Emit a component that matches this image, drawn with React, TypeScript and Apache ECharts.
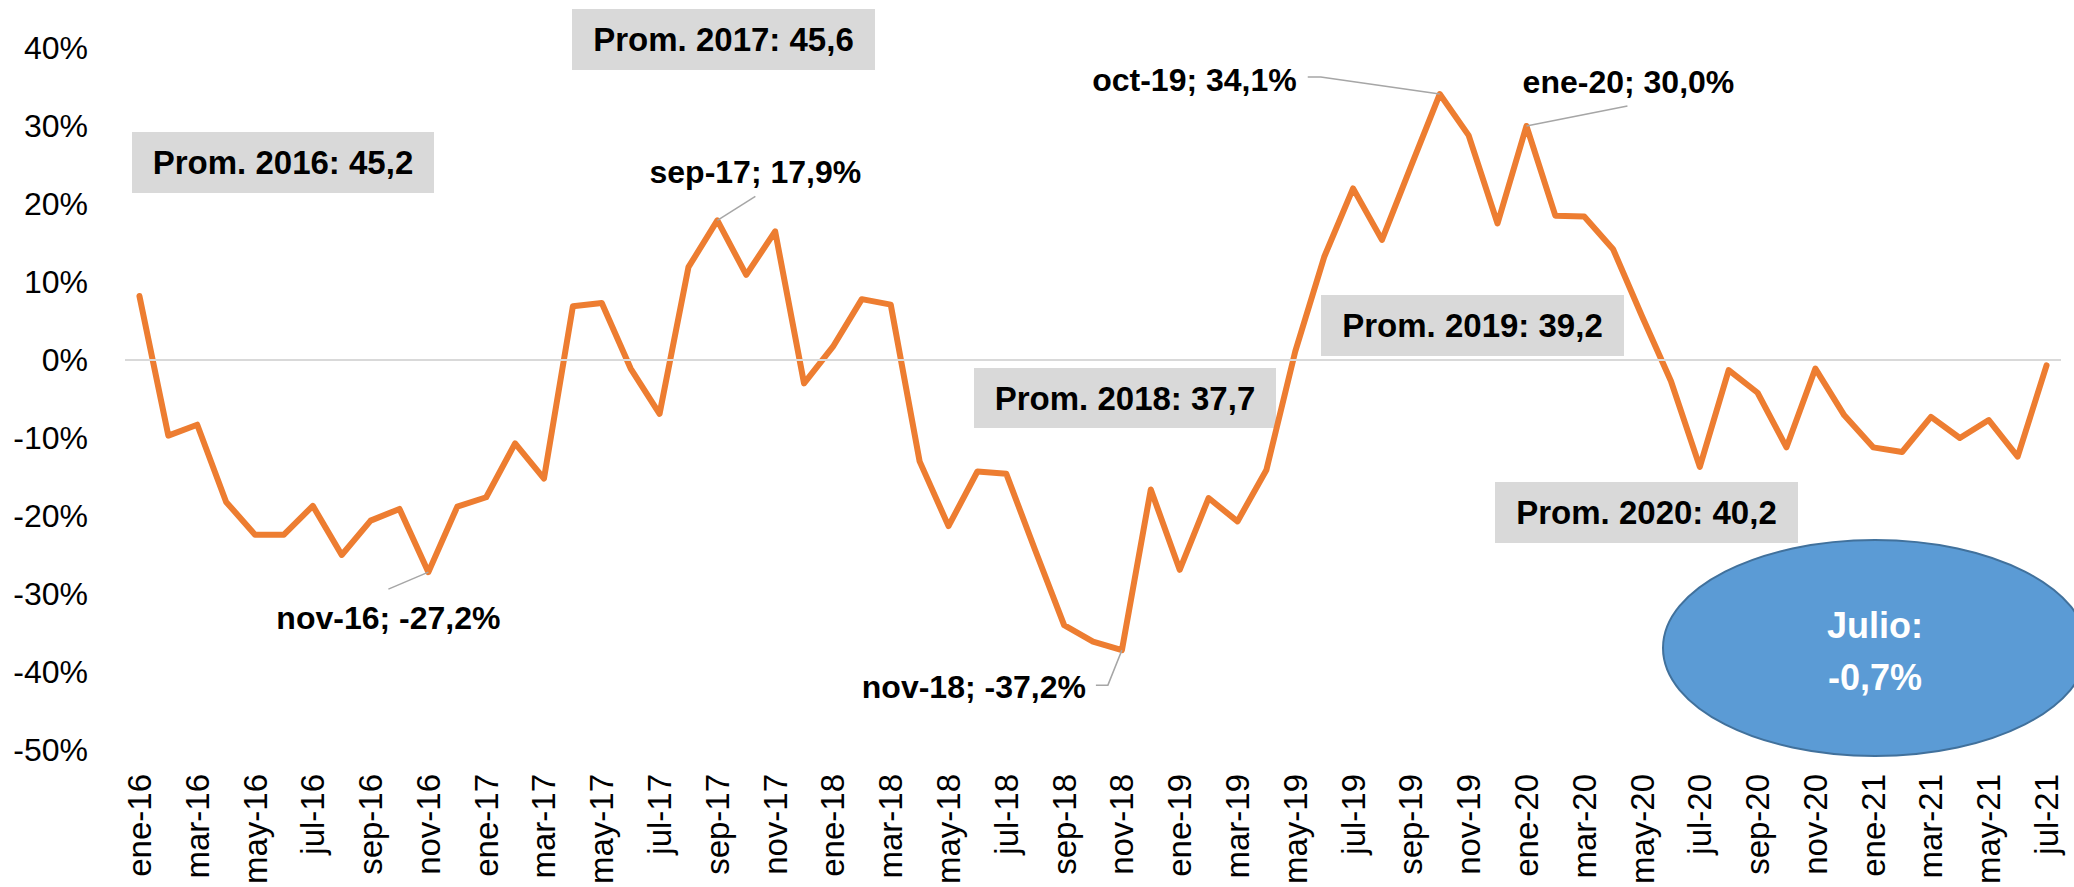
import React, { useEffect, useRef } from "react";
import * as echarts from "echarts";

const months = ["ene", "feb", "mar", "abr", "may", "jun", "jul", "ago", "sep", "oct", "nov", "dic"];
const years = ["16", "17", "18", "19", "20", "21"];
const categories: string[] = [];
years.forEach((y, yi) => {
  months.forEach((m, mi) => {
    if (yi < 5 || mi < 7) categories.push(`${m}-${y}`);
  });
});

const values2016 = [8.2, -9.7, -8.3, -18.2, -22.4, -22.4, -18.7, -25.0, -20.6, -19.1, -27.2, -18.8];
const values2017 = [-17.6, -10.7, -15.2, 6.9, 7.3, -1.1, -6.9, 11.9, 17.9, 10.9, 16.5, -3.0];
const values2018 = [1.7, 7.8, 7.1, -13.0, -21.3, -14.3, -14.6, -24.4, -34.0, -36.1, -37.2, -16.6];
const values2019 = [-26.9, -17.7, -20.7, -14.1, 1.1, 13.2, 22.0, 15.4, 24.8, 34.1, 28.8, 17.5];
const values2020 = [30.0, 18.5, 18.4, 14.2, 5.6, -2.7, -13.7, -1.3, -4.2, -11.2, -1.1, -7.1];
const values2021 = [-11.2, -11.8, -7.3, -10.0, -7.7, -12.4, -0.7];
const values = [...values2016, ...values2017, ...values2018, ...values2019, ...values2020, ...values2021];

const yTicks = { min: -50, max: 40, interval: 10 };

const averageBoxes = [
  { text: "Prom. 2016: 45,2", x: 132, y: 132, w: 302, h: 61 },
  { text: "Prom. 2017: 45,6", x: 572, y: 9, w: 303, h: 61 },
  { text: "Prom. 2018: 37,7", x: 974, y: 368, w: 302, h: 60 },
  { text: "Prom. 2019: 39,2", x: 1321, y: 295, w: 303, h: 61 },
  { text: "Prom. 2020: 40,2", x: 1495, y: 482, w: 303, h: 61 },
];

const pointLabels = [
  { cat: "nov-16", dx: -40, dy: 46, align: "center", leader: [[0, 0], [-40, 17]] },
  { cat: "sep-17", dx: 38, dy: -48, align: "center", leader: [[0, 0], [38, -24]] },
  { cat: "nov-18", dx: -36, dy: 37, align: "right", leader: [[0, 0], [-14, 35], [-26, 35]] },
  { cat: "oct-19", dx: -143, dy: -14, align: "right", leader: [[0, 0], [-119, -17], [-132, -17]] },
  { cat: "ene-20", dx: 102, dy: -44, align: "center", leader: [[0, 0], [101, -20]] },
];

const FONT = '"Liberation Sans", Arial, sans-serif';

function fmt(v: number) {
  return v.toFixed(1).replace(".", ",") + "%";
}

export default function App() {
  const ref = useRef<HTMLDivElement>(null);
  useEffect(() => {
    if (!ref.current) return;
    const chart = echarts.init(ref.current, null, { renderer: "svg" });
    chart.setOption({
      animation: false,
      backgroundColor: "#ffffff",
      grid: { left: 125, right: 13, top: 48, bottom: 137, containLabel: false },
      xAxis: {
        type: "category",
        data: categories,
        boundaryGap: true,
        axisLine: { show: false },
        axisTick: { show: false },
        axisLabel: {
          interval: 1,
          rotate: 90,
          margin: 24,
          color: "#000",
          fontSize: 33,
          fontFamily: FONT,
        },
      },
      yAxis: {
        type: "value",
        min: yTicks.min,
        max: yTicks.max,
        interval: yTicks.interval,
        axisLine: { show: false },
        axisTick: { show: false },
        splitLine: { show: false },
        axisLabel: {
          formatter: "{value}%",
          margin: 37,
          color: "#000",
          fontSize: 32,
          fontFamily: FONT,
        },
      },
      series: [
        {
          type: "line",
          data: values,
          symbol: "none",
          lineStyle: { color: "#ED7D31", width: 6, join: "round", cap: "round" },
          z: 3,
          markLine: {
            silent: true,
            symbol: "none",
            label: { show: false },
            lineStyle: { color: "#d9d9d9", width: 2, type: "solid" },
            data: [{ yAxis: 0 }],
          },
        },
      ],
    });

    const graphics: any[] = [];
    averageBoxes.forEach((b, i) => {
      graphics.push({
        type: "rect",
        id: "box" + i,
        z: 1,
        shape: { x: b.x, y: b.y, width: b.w, height: b.h },
        style: { fill: "#d9d9d9" },
      });
      graphics.push({
        type: "text",
        id: "boxt" + i,
        z: 2,
        style: {
          text: b.text,
          x: b.x + b.w / 2,
          y: b.y + b.h / 2,
          textAlign: "center",
          textVerticalAlign: "middle",
          align: "center",
          verticalAlign: "middle",
          fill: "#000",
          fontSize: 33,
          fontWeight: "bold",
          fontFamily: FONT,
        },
      });
    });

    pointLabels.forEach((l, i) => {
      const idx = categories.indexOf(l.cat);
      const p = chart.convertToPixel({ seriesIndex: 0 }, [idx, values[idx]]) as number[];
      graphics.push({
        type: "polyline",
        id: "lead" + i,
        z: 5,
        shape: { points: l.leader.map(([dx, dy]) => [p[0] + dx, p[1] + dy]) },
        style: { stroke: "#a6a6a6", lineWidth: 1.5, fill: "none" },
      });
      graphics.push({
        type: "text",
        id: "lbl" + i,
        z: 5,
        style: {
          text: `${l.cat}; ${fmt(values[idx])}`,
          x: p[0] + l.dx,
          y: p[1] + l.dy,
          textAlign: l.align,
          textVerticalAlign: "middle",
          align: l.align,
          verticalAlign: "middle",
          fill: "#000",
          fontSize: 32,
          fontWeight: "bold",
          fontFamily: FONT,
        },
      });
    });

    const lastIdx = values.length - 1;
    graphics.push({
      type: "ellipse",
      id: "ell",
      z: 6,
      shape: { cx: 1875, cy: 648, rx: 212, ry: 108 },
      style: { fill: "#5B9BD5", stroke: "#41719C", lineWidth: 2 },
    });
    graphics.push({
      type: "text",
      id: "ellt1",
      z: 7,
      style: {
        text: "Julio:",
        x: 1875,
        y: 625,
        textAlign: "center",
        textVerticalAlign: "middle",
        align: "center",
        verticalAlign: "middle",
        fill: "#fff",
        fontSize: 36,
        fontWeight: "bold",
        fontFamily: FONT,
      },
    });
    graphics.push({
      type: "text",
      id: "ellt2",
      z: 7,
      style: {
        text: fmt(values[lastIdx]),
        x: 1875,
        y: 677,
        textAlign: "center",
        textVerticalAlign: "middle",
        align: "center",
        verticalAlign: "middle",
        fill: "#fff",
        fontSize: 36,
        fontWeight: "bold",
        fontFamily: FONT,
      },
    });

    chart.setOption({ graphic: graphics });
    return () => chart.dispose();
  }, []);
  return (
    <div
      ref={ref}
      style={{ position: "absolute", left: 0, top: 0, width: 2074, height: 887 }}
    />
  );
}
